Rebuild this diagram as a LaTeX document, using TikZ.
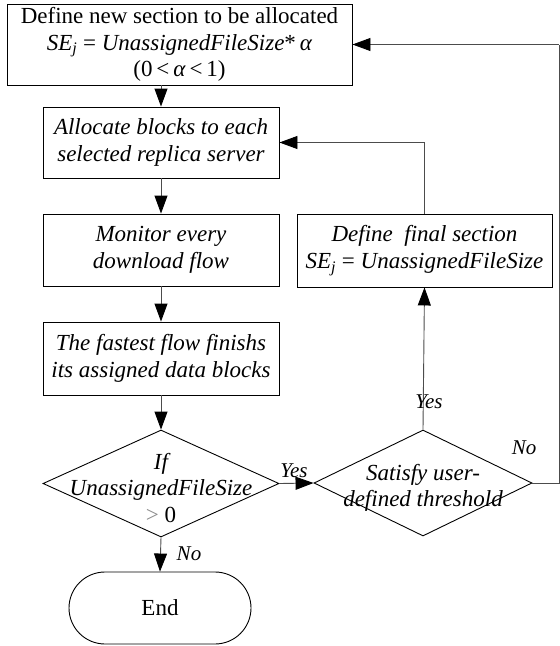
\documentclass[tikz,border=0pt]{standalone}
\usepackage{fontspec}
\setmainfont{Liberation Serif}
\usetikzlibrary{arrows.meta,shapes.geometric}
\begin{document}
\begin{tikzpicture}[x=1pt,y=-1pt,
  every node/.style={font=\fontsize{23}{26.5}\selectfont, inner sep=0pt, align=center},
  procbox/.style={draw=black, line width=0.9pt, rectangle},
  decbox/.style={draw=black, line width=0.9pt, diamond},
  termbox/.style={draw=black, line width=0.9pt, rectangle, rounded corners=36pt},
  flow/.style={draw=black!70, line width=0.9pt, -{Triangle[length=18pt,width=13pt,color=black,fill=black]}},
  plain/.style={draw=black!70, line width=0.9pt},
  tag/.style={font=\fontsize{21}{22}\selectfont\itshape}
]
\useasboundingbox (0,0) rectangle (560,646);

% process boxes
\node[procbox, minimum width=345pt, minimum height=81pt] (top) at (179.5,44.5)
  {Define new section to be allocated\\
   \textit{SE}\textsubscript{\textit{j}} = \textit{UnassignedFileSize}*\,\textit{α}\\
   (0\,<\,\textit{α}\,<\,1)};
\node[procbox, minimum width=236pt, minimum height=71pt] (alloc) at (161,142.5)
  {\itshape Allocate blocks to each\\ \itshape selected replica server};
\node[procbox, minimum width=236pt, minimum height=72pt] (monitor) at (161,250)
  {\itshape Monitor every\\ \itshape download flow};
\node[procbox, minimum width=236pt, minimum height=73pt] (fastest) at (161,358.5)
  {\itshape The fastest flow finishs\\ \itshape its assigned data blocks};
\node[procbox, minimum width=255pt, minimum height=73pt] (final) at (424.5,250.5)
  {\itshape Define\ \ final section\\
   \textit{SE}\textsubscript{\textit{j}} = \textit{UnassignedFileSize}};

% decisions
\node[decbox, minimum width=236pt, minimum height=107pt] (remain) at (161,483.5) {};
\node at (161,488) {\itshape If\\ \itshape UnassignedFileSize\\ \textcolor{black!45}{>}\ 0};
\node[decbox, minimum width=218pt, minimum height=106pt] (thresh) at (423,483) {};
\node at (423,488) {\itshape Satisfy user-\\ \itshape defined threshold};

% terminal
\node[termbox, minimum width=182pt, minimum height=72pt] (stop) at (160,608) {End};

% connectors
\coordinate (r1) at (559,483);
\coordinate (r2) at (559,44.5);
\draw[flow] (alloc.north |- top.south) -- (alloc.north);
\draw[flow] (alloc) -- (monitor);
\draw[flow] (monitor) -- (fastest);
\draw[flow] (fastest) -- (remain.north);
\draw[flow] (remain.east) -- (thresh.west);
\draw[flow] (remain.south) -- (stop.north);
\draw[flow] (thresh.north) -- (final.south);
\draw[flow] (final.north) |- (alloc.east);
\draw[plain] (thresh.east) -- (r1) -- (r2);
\draw[flow] (r2) -- (top.east);

% branch labels
\node[tag] (yes1) at (294,471) {Yes};
\node[tag] (no1) at (189,554) {No};
\node[tag] (yes2) at (429,402) {Yes};
\node[tag] (no2) at (524,448) {No};
\end{tikzpicture}
\end{document}
